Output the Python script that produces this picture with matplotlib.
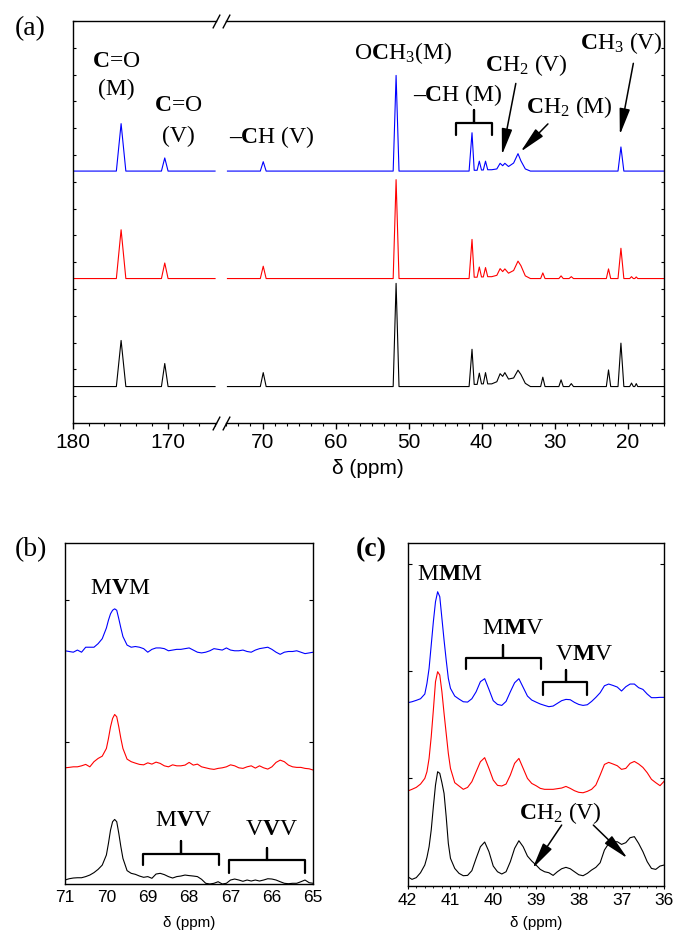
import numpy as np
import matplotlib
matplotlib.use('Agg')
import matplotlib.pyplot as plt
from matplotlib.ticker import MultipleLocator

plt.rcParams['font.family'] = ['Liberation Sans', 'DejaVu Sans']
plt.rcParams['mathtext.fontset'] = 'custom'
plt.rcParams['mathtext.rm'] = 'Liberation Serif'
plt.rcParams['mathtext.it'] = 'Liberation Serif:italic'
plt.rcParams['mathtext.bf'] = 'Liberation Serif:bold'

# ---------------- panel (a): full 13C spectra (intensity above baseline) ----------------
a_left_ppm = [180.0, 175.4, 174.9, 174.4, 170.65, 170.3, 169.95, 165.0]
a_left_blue = [0, 0, 1.77, 0, 0, 0.49, 0, 0]
a_left_red = [0, 0, 1.82, 0, 0, 0.58, 0, 0]
a_left_black = [0, 0, 1.72, 0, 0, 0.86, 0, 0]

a_right_ppm = [74.8, 70.3, 69.9, 69.5, 52.1, 51.7, 51.3, 41.7, 41.3, 41.0, 40.6, 40.3,
               40.0, 39.75, 39.45, 39.15, 38.6, 37.9, 37.45, 37.1, 36.8, 36.3, 35.6, 35.0,
               34.6, 34.0, 33.3, 31.9, 31.6, 31.3, 29.4, 29.1, 28.8, 28.0, 27.7, 27.4,
               22.9, 22.6, 22.3, 21.3, 20.9, 20.5, 19.7, 19.45, 19.2, 19.0, 18.8, 18.6, 15.0]
a_right_blue = [0, 0, 0.35, 0, 0, 3.57, 0, 0, 1.43, 0.03, 0.03, 0.37,
                0.04, 0.04, 0.37, 0.05, 0.05, 0.08, 0.29, 0.20, 0.29, 0.17, 0.30, 0.65,
                0.38, 0.08, 0, 0, 0, 0, 0, 0, 0, 0, 0, 0,
                0, 0, 0, 0, 0.90, 0, 0, 0, 0, 0, 0, 0, 0]
a_right_red = [0, 0, 0.46, 0, 0, 3.69, 0, 0, 1.46, 0.05, 0.05, 0.43,
               0.06, 0.06, 0.41, 0.07, 0.07, 0.12, 0.37, 0.26, 0.36, 0.20, 0.30, 0.65,
               0.48, 0.10, 0, 0, 0.21, 0, 0, 0.10, 0, 0, 0.07, 0,
               0, 0.36, 0, 0, 1.13, 0, 0, 0.07, 0, 0, 0.06, 0, 0]
a_right_black = [0, 0, 0.52, 0, 0, 3.85, 0, 0, 1.39, 0.08, 0.08, 0.50,
                 0.10, 0.10, 0.52, 0.10, 0.10, 0.18, 0.48, 0.38, 0.52, 0.28, 0.32, 0.61,
                 0.45, 0.12, 0, 0, 0.35, 0, 0, 0.25, 0, 0, 0.11, 0,
                 0, 0.62, 0, 0, 1.62, 0, 0, 0.13, 0, 0, 0.11, 0, 0]

# ---------------- panel (b): 65-71 ppm ----------------
b_ppm = [71.0, 70.9, 70.8, 70.7, 70.6, 70.5, 70.4, 70.3, 70.2, 70.1, 70.0, 69.95, 69.9,
         69.85, 69.8, 69.75, 69.7, 69.65, 69.6, 69.5, 69.4, 69.3, 69.2, 69.1, 69.0, 68.9,
         68.8, 68.7, 68.6, 68.5, 68.4, 68.3, 68.2, 68.1, 68.0, 67.9, 67.8, 67.7, 67.6,
         67.5, 67.4, 67.3, 67.2, 67.1, 67.0, 66.9, 66.8, 66.7, 66.6, 66.5, 66.4, 66.3,
         66.2, 66.1, 66.0, 65.9, 65.8, 65.7, 65.6, 65.5, 65.4, 65.3, 65.2, 65.1, 65.0]
b_blue = [1.64, 1.635, 1.63, 1.645, 1.63, 1.665, 1.665, 1.665, 1.69, 1.725, 1.80, 1.855, 1.90,
          1.925, 1.935, 1.925, 1.865, 1.80, 1.74, 1.68, 1.665, 1.67, 1.665, 1.655, 1.63, 1.65,
          1.66, 1.66, 1.655, 1.64, 1.645, 1.65, 1.65, 1.655, 1.66, 1.645, 1.63, 1.625, 1.63,
          1.64, 1.655, 1.65, 1.645, 1.66, 1.645, 1.64, 1.64, 1.645, 1.635, 1.63, 1.645, 1.655,
          1.66, 1.665, 1.65, 1.63, 1.615, 1.63, 1.635, 1.635, 1.64, 1.63, 1.62, 1.625, 1.63]
b_red = [0.817, 0.82, 0.824, 0.824, 0.831, 0.841, 0.824, 0.86, 0.883, 0.899, 0.953, 1.023, 1.105,
         1.164, 1.192, 1.176, 1.105, 1.023, 0.953, 0.878, 0.86, 0.85, 0.841, 0.838, 0.852, 0.843,
         0.857, 0.848, 0.831, 0.824, 0.838, 0.831, 0.831, 0.836, 0.855, 0.836, 0.843, 0.824, 0.817,
         0.81, 0.806, 0.813, 0.817, 0.824, 0.838, 0.831, 0.817, 0.813, 0.824, 0.831, 0.815, 0.831,
         0.817, 0.808, 0.824, 0.855, 0.871, 0.86, 0.836, 0.824, 0.82, 0.82, 0.813, 0.81, 0.801]
b_black = [0.028, 0.037, 0.042, 0.044, 0.044, 0.052, 0.063, 0.08, 0.103, 0.133, 0.204, 0.286, 0.379,
           0.438, 0.454, 0.438, 0.356, 0.262, 0.18, 0.094, 0.075, 0.068, 0.056, 0.047, 0.052, 0.04,
           0.07, 0.075, 0.066, 0.052, 0.042, 0.052, 0.056, 0.063, 0.059, 0.056, 0.052, 0.033, 0.005,
           0.0, 0.005, 0.016, 0.0, 0.005, 0.028, 0.035, 0.028, 0.019, 0.028, 0.021, 0.028, 0.021,
           0.028, 0.037, 0.035, 0.028, 0.016, 0.005, 0.002, 0.005, 0.005, 0.016, 0.028, 0.009, 0.005]

# ---------------- panel (c): 36-42 ppm ----------------
c_ppm = [42.0, 41.9, 41.8, 41.7, 41.6, 41.55, 41.5, 41.45, 41.4, 41.35, 41.3, 41.25, 41.2,
         41.15, 41.1, 41.05, 41.0, 40.9, 40.8, 40.7, 40.6, 40.5, 40.4, 40.3, 40.2, 40.1,
         40.0, 39.9, 39.8, 39.7, 39.6, 39.5, 39.4, 39.3, 39.2, 39.1, 39.0, 38.9, 38.8,
         38.7, 38.6, 38.5, 38.4, 38.3, 38.2, 38.1, 38.0, 37.9, 37.8, 37.7, 37.6, 37.5,
         37.4, 37.3, 37.2, 37.1, 37.0, 36.9, 36.8, 36.7, 36.6, 36.5, 36.4, 36.3, 36.2,
         36.1, 36.0]
c_blue = [1.705, 1.714, 1.727, 1.742, 1.786, 1.885, 2.025, 2.242, 2.460, 2.646, 2.739, 2.693, 2.491,
          2.289, 2.103, 1.932, 1.839, 1.767, 1.739, 1.714, 1.711, 1.742, 1.807, 1.901, 1.929, 1.829,
          1.724, 1.689, 1.680, 1.717, 1.807, 1.891, 1.929, 1.848, 1.767, 1.730, 1.711, 1.693, 1.680,
          1.668, 1.674, 1.699, 1.724, 1.736, 1.733, 1.708, 1.689, 1.680, 1.686, 1.717, 1.755, 1.798,
          1.863, 1.879, 1.866, 1.851, 1.814, 1.854, 1.879, 1.879, 1.845, 1.829, 1.786, 1.752, 1.752,
          1.755, 1.755]
c_red = [0.882, 0.898, 0.916, 0.947, 1.000, 1.062, 1.186, 1.388, 1.637, 1.901, 1.994, 1.963, 1.807,
         1.606, 1.419, 1.233, 1.093, 0.960, 0.929, 0.898, 0.916, 0.969, 1.062, 1.155, 1.193, 1.093,
         0.984, 0.935, 0.929, 0.947, 1.031, 1.140, 1.186, 1.093, 1.000, 0.953, 0.932, 0.907, 0.898,
         0.898, 0.898, 0.904, 0.910, 0.925, 0.907, 0.885, 0.870, 0.866, 0.879, 0.898, 0.938, 1.031,
         1.130, 1.149, 1.134, 1.118, 1.084, 1.093, 1.140, 1.158, 1.134, 1.102, 1.053, 0.991, 0.960,
         0.932, 0.975]
c_black = [0.084, 0.059, 0.075, 0.121, 0.193, 0.264, 0.363, 0.519, 0.736, 0.938, 1.062, 1.047, 0.960,
           0.860, 0.643, 0.394, 0.255, 0.161, 0.115, 0.093, 0.096, 0.140, 0.255, 0.363, 0.407, 0.317,
           0.183, 0.130, 0.109, 0.130, 0.224, 0.348, 0.419, 0.363, 0.276, 0.230, 0.193, 0.152, 0.130,
           0.121, 0.096, 0.130, 0.158, 0.171, 0.158, 0.130, 0.102, 0.093, 0.115, 0.146, 0.171, 0.214,
           0.332, 0.394, 0.407, 0.410, 0.385, 0.401, 0.447, 0.457, 0.394, 0.317, 0.224, 0.161, 0.152,
           0.183, 0.193]

col_blue, col_red, col_black = '#0000ff', '#ff0000', '#000000'
offsets_a = [9.40, 5.39, 1.36]
lw_trace = 0.8
serif = dict(fontfamily='Liberation Serif', fontsize=17, ha='center', va='center')

fig = plt.figure(figsize=(6.75, 9.32), dpi=100)

# ---------- panel (a) : broken x axis ----------
axL = fig.add_axes([72.7 / 675, 509 / 932, 143.3 / 675, 402 / 932])
axR = fig.add_axes([226 / 675, 509 / 932, 438 / 675, 402 / 932])

for ys, c, off in zip([a_left_blue, a_left_red, a_left_black], [col_blue, col_red, col_black], offsets_a):
    axL.plot(a_left_ppm, np.array(ys) + off, color=c, lw=lw_trace)
for ys, c, off in zip([a_right_blue, a_right_red, a_right_black], [col_blue, col_red, col_black], offsets_a):
    axR.plot(a_right_ppm, np.array(ys) + off, color=c, lw=lw_trace)

axL.set_xlim(180, 164.9)
axR.set_xlim(75.0, 15.0)
for ax in (axL, axR):
    ax.set_ylim(0, 15)
    ax.yaxis.set_major_locator(MultipleLocator(1))
    ax.xaxis.set_minor_locator(MultipleLocator(10 / 6))
    ax.tick_params(axis='x', which='major', direction='out', length=4, width=1, labelsize=15, pad=3)
    ax.tick_params(axis='x', which='minor', direction='out', length=2.5, width=0.8)
    ax.tick_params(axis='y', direction='in', length=2.5, width=0.8)
    for s in ax.spines.values():
        s.set_linewidth(1.0)
axL.set_xticks([180, 170])
axR.set_xticks([70, 60, 50, 40, 30, 20])
axL.spines['right'].set_visible(False)
axR.spines['left'].set_visible(False)
axL.tick_params(axis='y', left=True, right=False, labelleft=False)
axR.tick_params(axis='y', left=False, right=True, labelleft=False, labelright=False)

d = 1.9
kw = dict(marker=[(-1, -d), (1, d)], markersize=10, linestyle='none', color='k', mec='k', mew=1, clip_on=False)
axL.plot([1, 1], [0, 1], transform=axL.transAxes, **kw)
axR.plot([0, 0], [0, 1], transform=axR.transAxes, **kw)

fig.text(368 / 675, 1 - 468 / 932, 'δ (ppm)', fontsize=15, ha='center', va='center')

axL.text(175.4, 13.48, r'$\mathbf{C}$=O', **serif)
axL.text(175.4, 12.43, '(M)', **serif)
axL.text(168.9, 11.83, r'$\mathbf{C}$=O', **serif)
axL.text(168.9, 10.71, '(V)', **serif)
axR.text(68.7, 10.68, '$\\mathbf{\u2013C}$H (V)', **serif)
axR.text(50.8, 13.79, r'O$\mathbf{C}$H$_3$(M)', **serif)
axR.text(43.3, 12.24, '$\\mathbf{\u2013C}$H (M)', **serif)
axR.text(33.8, 13.36, r'$\mathbf{C}$H$_2$ (V)', **serif)
axR.text(28.0, 11.80, r'$\mathbf{C}$H$_2$ (M)', **serif)
axR.text(20.8, 14.17, r'$\mathbf{C}$H$_3$ (V)', **serif)

arrow = dict(arrowstyle='-|>,head_length=0.8,head_width=0.16', color='k', lw=1.1,
             shrinkA=0, shrinkB=0, mutation_scale=20)
axR.annotate('', xy=(37.2, 10.0), xytext=(35.3, 12.67), arrowprops=arrow)
axR.annotate('', xy=(34.65, 10.12), xytext=(30.9, 11.16), arrowprops=arrow)
axR.annotate('', xy=(21.05, 10.75), xytext=(19.2, 13.42), arrowprops=arrow)


def bracket(ax, x1, x2, xc, y_h, y_end, y_tip, lw=1.6):
    ax.plot([x1, x1, xc, xc, xc, x2, x2], [y_end, y_h, y_h, y_tip, y_h, y_h, y_end],
            color='k', lw=lw, solid_joinstyle='round', solid_capstyle='round')


bracket(axR, 43.5, 38.55, 41.05, 11.18, 10.75, 11.68)

fig.text(30 / 675, 1 - 29 / 932, '(a)', fontfamily='Liberation Serif', fontsize=20, ha='center', va='center')

# ---------- panel (b) ----------
axB = fig.add_axes([65 / 675, 48 / 932, 248.3 / 675, 341.3 / 932])
for ys, c in zip([b_blue, b_red, b_black], [col_blue, col_red, col_black]):
    axB.plot(b_ppm, ys, color=c, lw=lw_trace)
axB.set_xlim(71, 65)
axB.set_ylim(0, 2.40)
axB.set_xticks([71, 70, 69, 68, 67, 66, 65])
axB.set_yticks([1, 2])
axB.tick_params(axis='x', length=0, labelsize=12.5, pad=4)
axB.tick_params(axis='y', direction='in', length=3, width=0.8, left=True, right=True, labelleft=False)
for s in axB.spines.values():
    s.set_linewidth(1.0)
axB.text(0.5, -0.114, 'δ (ppm)', transform=axB.transAxes, fontsize=11, ha='center', va='center')
axB.text(69.66, 2.077, r'M$\mathbf{V}$M', **serif)
axB.text(68.14, 0.445, r'M$\mathbf{V}$V', **serif)
axB.text(66.01, 0.384, r'V$\mathbf{V}$V', **serif)
bracket(axB, 69.11, 67.27, 68.2, 0.21, 0.134, 0.30)
bracket(axB, 67.03, 65.19, 66.13, 0.169, 0.08, 0.255)
fig.text(31 / 675, 1 - 550 / 932, '(b)', fontfamily='Liberation Serif', fontsize=20, ha='center', va='center')

# ---------- panel (c) ----------
axC = fig.add_axes([407.7 / 675, 46.3 / 932, 256.6 / 675, 343 / 932])
for ys, c in zip([c_blue, c_red, c_black], [col_blue, col_red, col_black]):
    axC.plot(c_ppm, ys, color=c, lw=lw_trace)
axC.set_xlim(42, 36)
axC.set_ylim(0, 3.196)
axC.set_xticks([42, 41, 40, 39, 38, 37, 36])
axC.xaxis.set_minor_locator(MultipleLocator(0.2))
axC.set_yticks([1, 2, 3])
axC.tick_params(axis='x', which='major', direction='out', length=2.5, width=0.8, labelsize=12.5, pad=3)
axC.tick_params(axis='x', which='minor', direction='out', length=1.5, width=0.6)
axC.tick_params(axis='y', direction='in', length=3, width=0.8, left=True, right=True, labelleft=False)
for s in axC.spines.values():
    s.set_linewidth(1.0)
axC.text(0.5, -0.109, 'δ (ppm)', transform=axC.transAxes, fontsize=11, ha='center', va='center')
axC.text(41.01, 2.904, r'M$\mathbf{M}$M', **serif)
axC.text(39.53, 2.398, r'M$\mathbf{M}$V', **serif)
axC.text(37.87, 2.158, r'V$\mathbf{M}$V', **serif)
bracket(axC, 40.64, 38.88, 39.76, 2.124, 2.016, 2.242)
bracket(axC, 38.83, 37.80, 38.31, 1.901, 1.776, 2.009)
axC.text(38.44, 0.680, r'$\mathbf{C}$H$_2$ (V)', **serif)
axC.annotate('', xy=(39.08, 0.161), xytext=(38.40, 0.565), arrowprops=arrow)
axC.annotate('', xy=(36.86, 0.255), xytext=(37.66, 0.565), arrowprops=arrow)
fig.text(371 / 675, 1 - 550 / 932, '(c)', fontfamily='Liberation Serif', fontsize=20,
         fontweight='bold', ha='center', va='center')

fig.savefig('out.png', dpi=100)
